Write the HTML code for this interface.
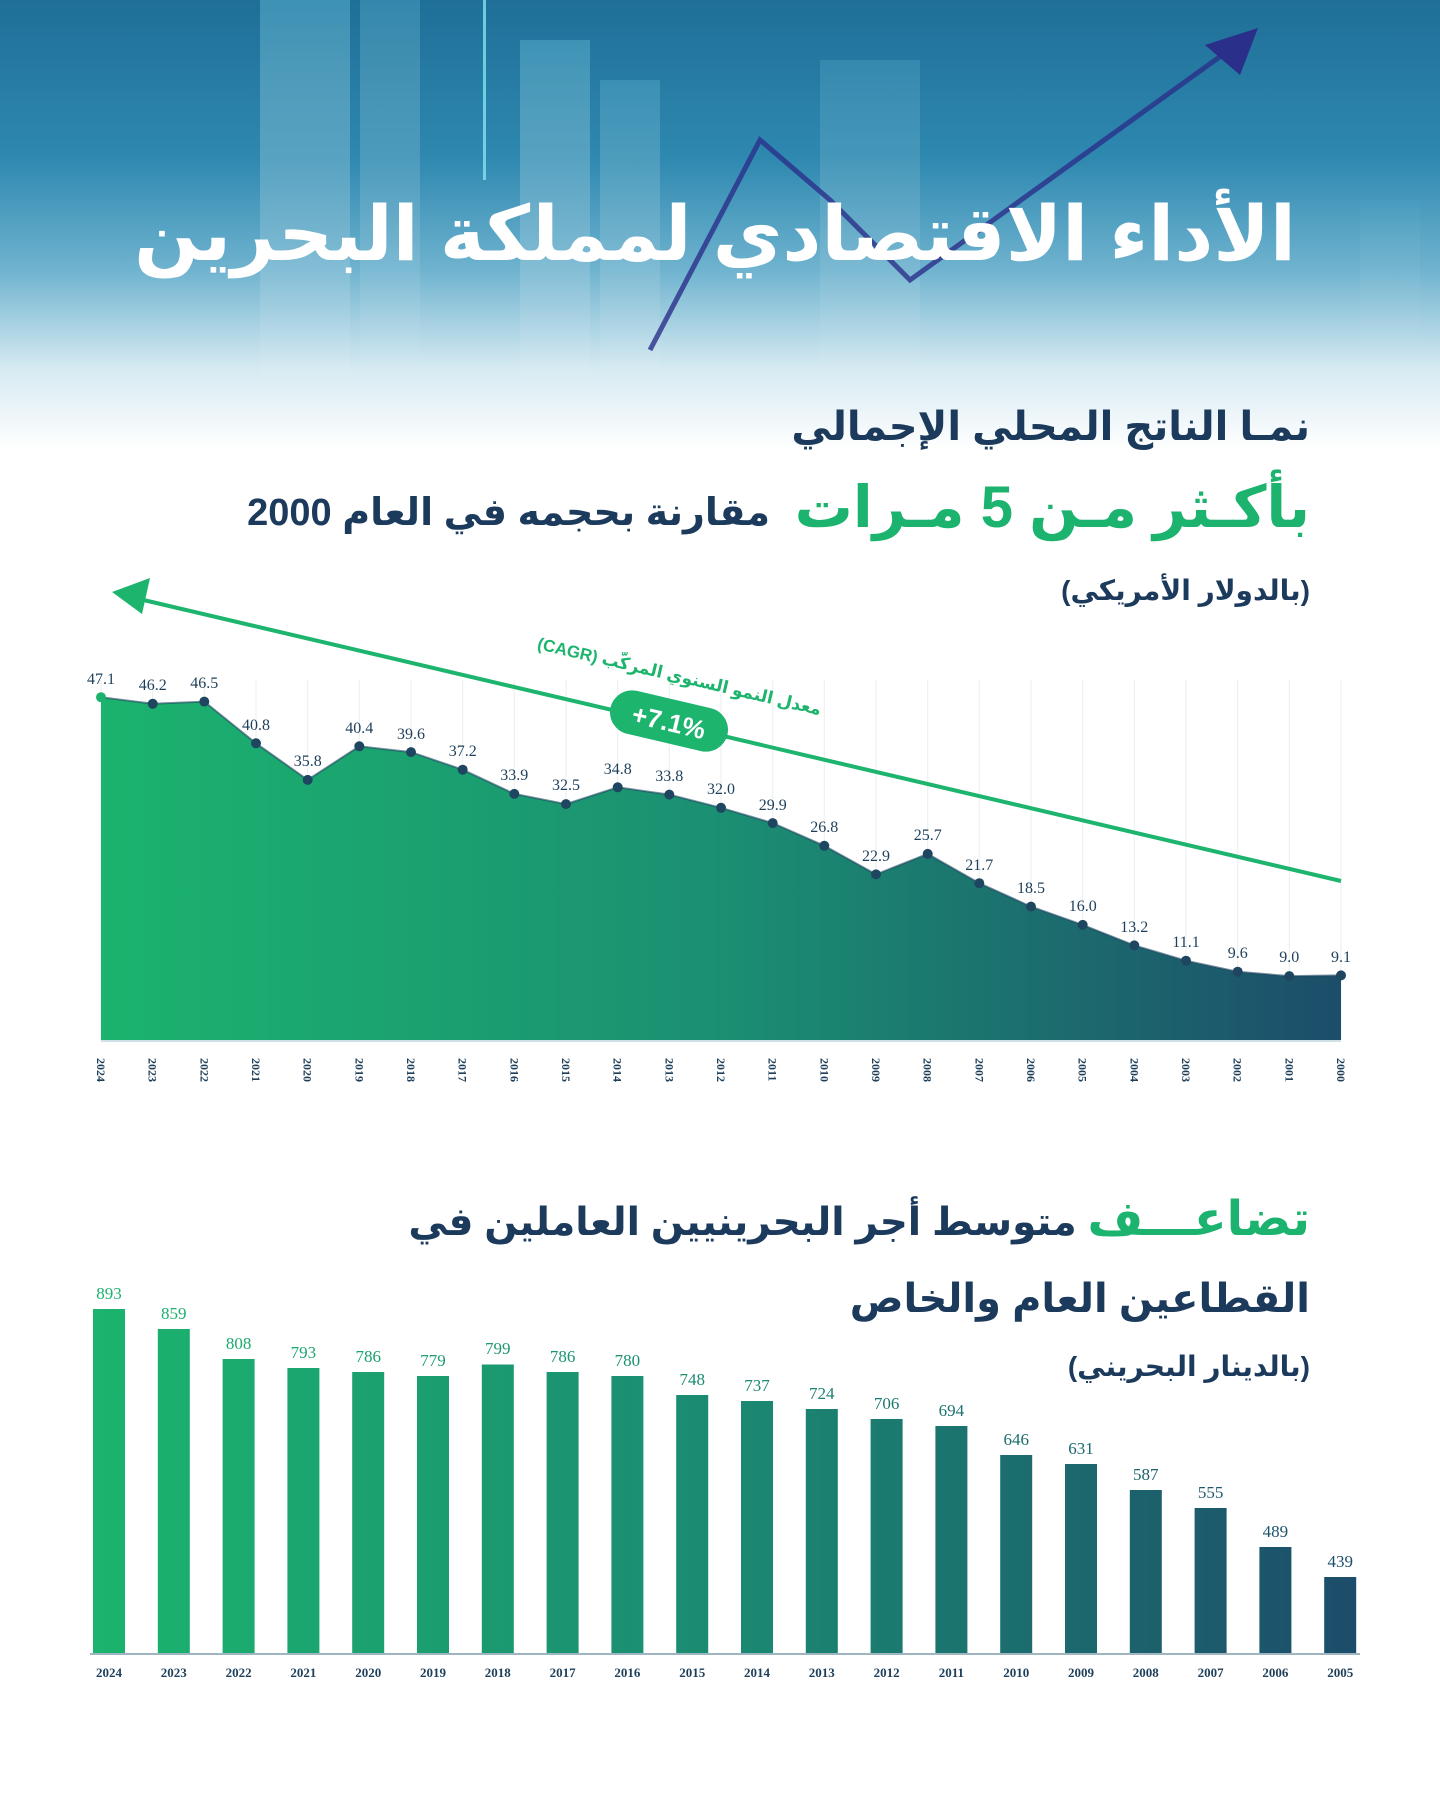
<!DOCTYPE html>
<html><head><meta charset="utf-8">
<style>
html,body{margin:0;padding:0;background:#fff;}
svg{display:block;}
.ar{font-family:"Liberation Sans","Noto Sans CJK SC","DejaVu Sans",sans-serif;font-weight:bold;}
.v{font-family:"Liberation Serif",serif;font-size:16px;fill:#1e3f5a;text-anchor:middle;}
.yr{font-family:"Liberation Serif",serif;font-size:12px;font-weight:bold;fill:#1e3f5a;}
</style></head><body>
<svg width="1440" height="1800" viewBox="0 0 1440 1800" xmlns="http://www.w3.org/2000/svg">
<defs>
<linearGradient id="sky" x1="0" y1="0" x2="0" y2="1">
<stop offset="0" stop-color="#1f6f98"/>
<stop offset="0.35" stop-color="#2e88b0"/>
<stop offset="0.6" stop-color="#6fb3cf"/>
<stop offset="0.82" stop-color="#d6eaf2"/>
<stop offset="1" stop-color="#ffffff"/>
</linearGradient>
<linearGradient id="gx" x1="100" y1="0" x2="1345" y2="0" gradientUnits="userSpaceOnUse">
<stop offset="0" stop-color="#1bb36e"/>
<stop offset="0.5" stop-color="#1b8f72"/>
<stop offset="1" stop-color="#1c4d6a"/>
</linearGradient>
<linearGradient id="bx" x1="100" y1="0" x2="1350" y2="0" gradientUnits="userSpaceOnUse">
<stop offset="0" stop-color="#1bb36e"/>
<stop offset="0.5" stop-color="#1b8a72"/>
<stop offset="1" stop-color="#1c4d6a"/>
</linearGradient>
<linearGradient id="bld" x1="0" y1="0" x2="0" y2="1">
<stop offset="0" stop-color="#4aa0c0" stop-opacity="0.7"/>
<stop offset="1" stop-color="#ffffff" stop-opacity="0"/>
</linearGradient>
</defs>
<rect x="0" y="0" width="1440" height="450" fill="url(#sky)"/>
<rect x="260" y="0" width="90" height="420" fill="url(#bld)"/>
<rect x="360" y="0" width="60" height="380" fill="url(#bld)" opacity="0.7"/>
<rect x="520" y="40" width="70" height="380" fill="url(#bld)"/>
<rect x="600" y="80" width="60" height="340" fill="url(#bld)" opacity="0.8"/>
<rect x="820" y="60" width="100" height="360" fill="url(#bld)" opacity="0.6"/>
<rect x="1360" y="200" width="60" height="220" fill="url(#bld)" opacity="0.6"/>
<rect x="483" y="0" width="3" height="180" fill="#7fe3f0" opacity="0.8"/>
<polyline points="650,350 760,140 830,200 910,280 1250,35" fill="none" stroke="#2a2f8a" stroke-width="5" opacity="0.8"/>
<polygon points="1258,28 1205,45 1240,75" fill="#2a2f8a"/>
<text x="715" y="260" class="ar" font-size="76" fill="#ffffff" text-anchor="middle" direction="rtl">الأداء الاقتصادي لمملكة البحرين</text>

<text x="1310" y="440" class="ar" font-size="40" fill="#1b3a5c" text-anchor="start" direction="rtl">نمـا الناتج المحلي الإجمالي</text>
<text x="1310" y="527" class="ar" font-size="58" fill="#1bb36e" text-anchor="start" direction="rtl">بأكـثر مـن 5 مـرات</text>
<text x="770" y="525" class="ar" font-size="38" fill="#1b3a5c" text-anchor="start" direction="rtl">مقارنة بحجمه في العام 2000</text>
<text x="1310" y="600" class="ar" font-size="28" fill="#1b3a5c" text-anchor="start" direction="rtl" font-weight="normal">(بالدولار الأمريكي)</text>

<g stroke="#e9eef0" stroke-width="1">
<line x1="101" y1="680" x2="101" y2="1040"/><line x1="152.7" y1="680" x2="152.7" y2="1040"/><line x1="204.3" y1="680" x2="204.3" y2="1040"/><line x1="256" y1="680" x2="256" y2="1040"/><line x1="307.7" y1="680" x2="307.7" y2="1040"/><line x1="359.3" y1="680" x2="359.3" y2="1040"/><line x1="411" y1="680" x2="411" y2="1040"/><line x1="462.7" y1="680" x2="462.7" y2="1040"/><line x1="514.3" y1="680" x2="514.3" y2="1040"/><line x1="566" y1="680" x2="566" y2="1040"/><line x1="617.7" y1="680" x2="617.7" y2="1040"/><line x1="669.3" y1="680" x2="669.3" y2="1040"/><line x1="721" y1="680" x2="721" y2="1040"/><line x1="772.7" y1="680" x2="772.7" y2="1040"/><line x1="824.3" y1="680" x2="824.3" y2="1040"/><line x1="876" y1="680" x2="876" y2="1040"/><line x1="927.7" y1="680" x2="927.7" y2="1040"/><line x1="979.3" y1="680" x2="979.3" y2="1040"/><line x1="1031" y1="680" x2="1031" y2="1040"/><line x1="1082.7" y1="680" x2="1082.7" y2="1040"/><line x1="1134.3" y1="680" x2="1134.3" y2="1040"/><line x1="1186" y1="680" x2="1186" y2="1040"/><line x1="1237.7" y1="680" x2="1237.7" y2="1040"/><line x1="1289.3" y1="680" x2="1289.3" y2="1040"/><line x1="1341" y1="680" x2="1341" y2="1040"/>
</g>
<polygon fill="url(#gx)" points="101,1040 101,697.2 152.7,703.8 204.3,701.6 256,743.3 307.7,779.9 359.3,746.3 411,752.1 462.7,769.7 514.3,793.9 566,804.1 617.7,787.3 669.3,794.6 721,807.8 772.7,823.1 824.3,845.8 876,874.4 927.7,853.9 979.3,883.2 1031,906.6 1082.7,924.9 1134.3,945.4 1186,960.7 1237.7,971.7 1289.3,976.1 1341,975.4 1341,1040"/>
<polyline fill="none" stroke="#1e4660" stroke-width="2" opacity="0.6" points="101,697.2 152.7,703.8 204.3,701.6 256,743.3 307.7,779.9 359.3,746.3 411,752.1 462.7,769.7 514.3,793.9 566,804.1 617.7,787.3 669.3,794.6 721,807.8 772.7,823.1 824.3,845.8 876,874.4 927.7,853.9 979.3,883.2 1031,906.6 1082.7,924.9 1134.3,945.4 1186,960.7 1237.7,971.7 1289.3,976.1 1341,975.4"/>
<line x1="101" y1="1041" x2="1341" y2="1041" stroke="#cfe0e6" stroke-width="2"/>
<g fill="#1e4660">
<circle cx="101" cy="697.2" r="5" fill="#1bb36e"/><circle cx="152.7" cy="703.8" r="5"/><circle cx="204.3" cy="701.6" r="5"/><circle cx="256" cy="743.3" r="5"/><circle cx="307.7" cy="779.9" r="5"/><circle cx="359.3" cy="746.3" r="5"/><circle cx="411" cy="752.1" r="5"/><circle cx="462.7" cy="769.7" r="5"/><circle cx="514.3" cy="793.9" r="5"/><circle cx="566" cy="804.1" r="5"/><circle cx="617.7" cy="787.3" r="5"/><circle cx="669.3" cy="794.6" r="5"/><circle cx="721" cy="807.8" r="5"/><circle cx="772.7" cy="823.1" r="5"/><circle cx="824.3" cy="845.8" r="5"/><circle cx="876" cy="874.4" r="5"/><circle cx="927.7" cy="853.9" r="5"/><circle cx="979.3" cy="883.2" r="5"/><circle cx="1031" cy="906.6" r="5"/><circle cx="1082.7" cy="924.9" r="5"/><circle cx="1134.3" cy="945.4" r="5"/><circle cx="1186" cy="960.7" r="5"/><circle cx="1237.7" cy="971.7" r="5"/><circle cx="1289.3" cy="976.1" r="5"/><circle cx="1341" cy="975.4" r="5"/>
</g>
<g class="v">
<text x="101" y="684" fill="#1bb36e" class="v">47.1</text><text x="152.7" y="690" class="v">46.2</text><text x="204.3" y="688" class="v">46.5</text><text x="256" y="730" class="v">40.8</text><text x="307.7" y="766" class="v">35.8</text><text x="359.3" y="733" class="v">40.4</text><text x="411" y="739" class="v">39.6</text><text x="462.7" y="756" class="v">37.2</text><text x="514.3" y="780" class="v">33.9</text><text x="566" y="790" class="v">32.5</text><text x="617.7" y="774" class="v">34.8</text><text x="669.3" y="781" class="v">33.8</text><text x="721" y="794" class="v">32.0</text><text x="772.7" y="810" class="v">29.9</text><text x="824.3" y="832" class="v">26.8</text><text x="876" y="861" class="v">22.9</text><text x="927.7" y="840" class="v">25.7</text><text x="979.3" y="870" class="v">21.7</text><text x="1031" y="893" class="v">18.5</text><text x="1082.7" y="911" class="v">16.0</text><text x="1134.3" y="932" class="v">13.2</text><text x="1186" y="947" class="v">11.1</text><text x="1237.7" y="958" class="v">9.6</text><text x="1289.3" y="962" class="v">9.0</text><text x="1341" y="962" class="v">9.1</text>
</g>
<g class="yr">
<text transform="translate(97,1058) rotate(90)" class="yr">2024</text><text transform="translate(148.7,1058) rotate(90)" class="yr">2023</text><text transform="translate(200.3,1058) rotate(90)" class="yr">2022</text><text transform="translate(252,1058) rotate(90)" class="yr">2021</text><text transform="translate(303.7,1058) rotate(90)" class="yr">2020</text><text transform="translate(355.3,1058) rotate(90)" class="yr">2019</text><text transform="translate(407,1058) rotate(90)" class="yr">2018</text><text transform="translate(458.7,1058) rotate(90)" class="yr">2017</text><text transform="translate(510.3,1058) rotate(90)" class="yr">2016</text><text transform="translate(562,1058) rotate(90)" class="yr">2015</text><text transform="translate(613.7,1058) rotate(90)" class="yr">2014</text><text transform="translate(665.3,1058) rotate(90)" class="yr">2013</text><text transform="translate(717,1058) rotate(90)" class="yr">2012</text><text transform="translate(768.7,1058) rotate(90)" class="yr">2011</text><text transform="translate(820.3,1058) rotate(90)" class="yr">2010</text><text transform="translate(872,1058) rotate(90)" class="yr">2009</text><text transform="translate(923.7,1058) rotate(90)" class="yr">2008</text><text transform="translate(975.3,1058) rotate(90)" class="yr">2007</text><text transform="translate(1027,1058) rotate(90)" class="yr">2006</text><text transform="translate(1078.7,1058) rotate(90)" class="yr">2005</text><text transform="translate(1130.3,1058) rotate(90)" class="yr">2004</text><text transform="translate(1182,1058) rotate(90)" class="yr">2003</text><text transform="translate(1233.7,1058) rotate(90)" class="yr">2002</text><text transform="translate(1285.3,1058) rotate(90)" class="yr">2001</text><text transform="translate(1337,1058) rotate(90)" class="yr">2000</text>
</g>
<line x1="1341" y1="881" x2="135" y2="598" stroke="#1db46e" stroke-width="4"/>
<polygon points="112,592 150,578 142,614" fill="#1db46e"/>
<g transform="translate(669,721) rotate(13.2)">
<rect x="-60" y="-22" width="120" height="44" rx="22" fill="#1db46e"/>
<text x="0" y="10" font-family="Liberation Sans,sans-serif" font-weight="bold" font-size="26" fill="#fff" text-anchor="middle">+7.1%</text>
<text x="0" y="-40" class="ar" font-size="17" fill="#1db46e" text-anchor="middle" font-weight="normal" direction="rtl">معدل النمو السنوي المركّب (CAGR)</text>
</g>

<text x="1310" y="1235" class="ar" font-size="39" fill="#1b3a5c" text-anchor="start" direction="rtl"><tspan fill="#1bb36e" font-size="48">تضاعـــف</tspan> متوسط أجر البحرينيين العاملين في</text>
<text x="1310" y="1312" class="ar" font-size="40" fill="#1b3a5c" text-anchor="start" direction="rtl">القطاعين العام والخاص</text>
<text x="1310" y="1376" class="ar" font-size="28" fill="#1b3a5c" text-anchor="start" direction="rtl" font-weight="normal">(بالدينار البحريني)</text>

<g fill="url(#bx)">
<rect x="93" y="1309" width="32" height="344"/><rect x="157.8" y="1329" width="32" height="324"/><rect x="222.6" y="1359" width="32" height="294"/><rect x="287.4" y="1368" width="32" height="285"/><rect x="352.2" y="1372" width="32" height="281"/><rect x="417" y="1376" width="32" height="277"/><rect x="481.8" y="1364.5" width="32" height="288.5"/><rect x="546.6" y="1372" width="32" height="281"/><rect x="611.4" y="1376" width="32" height="277"/><rect x="676.2" y="1395" width="32" height="258"/><rect x="741" y="1401" width="32" height="252"/><rect x="805.8" y="1409" width="32" height="244"/><rect x="870.6" y="1419" width="32" height="234"/><rect x="935.4" y="1426" width="32" height="227"/><rect x="1000.2" y="1455" width="32" height="198"/><rect x="1065" y="1464" width="32" height="189"/><rect x="1129.8" y="1490" width="32" height="163"/><rect x="1194.6" y="1508" width="32" height="145"/><rect x="1259.4" y="1547" width="32" height="106"/><rect x="1324.2" y="1577" width="32" height="76"/>
</g>
<line x1="90" y1="1654" x2="1360" y2="1654" stroke="#9fb6c0" stroke-width="2"/>
<g font-family="Liberation Serif,serif" font-size="17" fill="url(#bx)" text-anchor="middle">
<text x="109" y="1299">893</text><text x="173.8" y="1319">859</text><text x="238.6" y="1349">808</text><text x="303.4" y="1358">793</text><text x="368.2" y="1362">786</text><text x="433" y="1366">779</text><text x="497.8" y="1354">799</text><text x="562.6" y="1362">786</text><text x="627.4" y="1366">780</text><text x="692.2" y="1385">748</text><text x="757" y="1391">737</text><text x="821.8" y="1399">724</text><text x="886.6" y="1409">706</text><text x="951.4" y="1416">694</text><text x="1016.2" y="1445">646</text><text x="1081" y="1454">631</text><text x="1145.8" y="1480">587</text><text x="1210.6" y="1498">555</text><text x="1275.4" y="1537">489</text><text x="1340.2" y="1567">439</text>
</g>
<g font-family="Liberation Serif,serif" font-size="13" font-weight="bold" fill="#1e3f5a" text-anchor="middle">
<text x="109" y="1677">2024</text><text x="173.8" y="1677">2023</text><text x="238.6" y="1677">2022</text><text x="303.4" y="1677">2021</text><text x="368.2" y="1677">2020</text><text x="433" y="1677">2019</text><text x="497.8" y="1677">2018</text><text x="562.6" y="1677">2017</text><text x="627.4" y="1677">2016</text><text x="692.2" y="1677">2015</text><text x="757" y="1677">2014</text><text x="821.8" y="1677">2013</text><text x="886.6" y="1677">2012</text><text x="951.4" y="1677">2011</text><text x="1016.2" y="1677">2010</text><text x="1081" y="1677">2009</text><text x="1145.8" y="1677">2008</text><text x="1210.6" y="1677">2007</text><text x="1275.4" y="1677">2006</text><text x="1340.2" y="1677">2005</text>
</g>
</svg>
</body></html>
